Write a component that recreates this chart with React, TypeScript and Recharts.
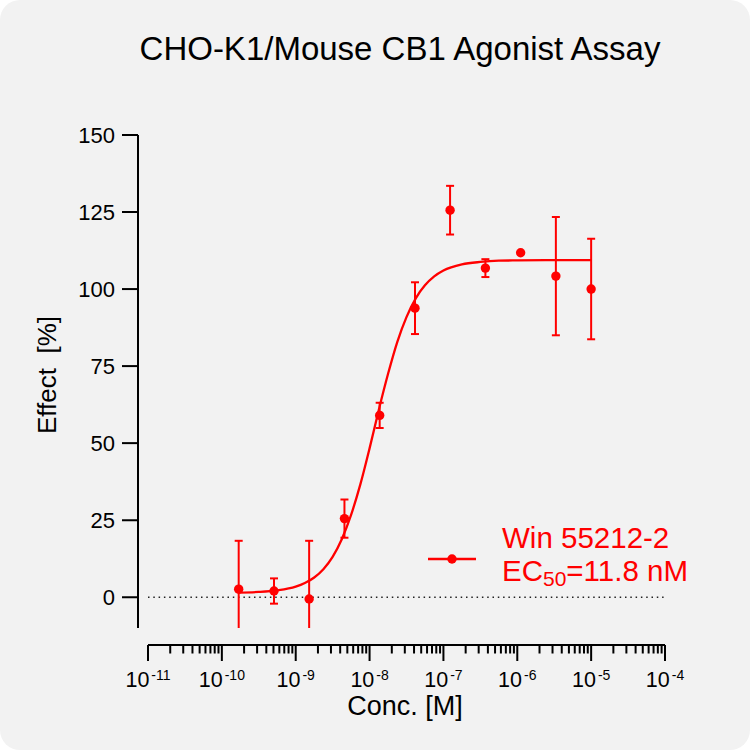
import {
  ComposedChart,
  Line,
  Scatter,
  ErrorBar,
  XAxis,
  YAxis,
  ReferenceLine,
  Legend,
} from 'recharts';

const RED = '#ff0000';
const FONT = '"Liberation Sans", Arial, sans-serif';

// measured points (3-fold dilution series)
const pointConc = [1.69e-10, 5.08e-10, 1.52e-9, 4.57e-9, 1.37e-8, 4.12e-8, 1.23e-7, 3.7e-7, 1.11e-6, 3.33e-6, 1.0e-5];
const pointEffect = [2.6, 2.0, -0.6, 25.5, 59.0, 93.8, 125.6, 106.8, 111.8, 104.2, 100.0];
const pointSd = [15.7, 4.1, 18.9, 6.2, 4.1, 8.4, 7.9, 2.9, 0, 19.2, 16.3];

// fitted curve
const curveConc = [
  1.69e-10, 3.16e-10, 5.62e-10, 1e-9, 1.33e-9, 1.78e-9, 2.37e-9, 3.16e-9, 4.22e-9, 5.62e-9,
  7.5e-9, 1e-8, 1.33e-8, 1.78e-8, 2.37e-8, 3.16e-8, 4.22e-8, 5.62e-8, 7.5e-8, 1e-7,
  1.78e-7, 3.16e-7, 5.62e-7, 1e-6, 3.16e-6, 1e-5,
];
const curveEffect = [
  1.5, 1.7, 2.2, 3.4, 4.6, 6.4, 9.1, 13.1, 18.9, 26.7,
  36.6, 48.3, 60.7, 72.5, 82.8, 90.9, 97.0, 101.2, 104.1, 106.0,
  108.0, 108.8, 109.2, 109.3, 109.4, 109.4,
];

const yTicks = [0, 25, 50, 75, 100, 125, 150];
const decades = [-11, -10, -9, -8, -7, -6, -5];
const multipliers = [1, 2, 3, 4, 5, 6, 7, 8, 9];

const xTicks = [...decades.flatMap(d => multipliers.map(m => m * Math.pow(10, d))), 1e-4];

const points = pointConc.map((conc, i) => ({ conc, effect: pointEffect[i], sd: pointSd[i] }));
const curve = curveConc.map((conc, i) => ({ conc, effect: curveEffect[i] }));

// layout
const WIDTH = 750;
const HEIGHT = 750;
const MARGIN = { top: 135, right: 85, bottom: 62, left: 88 };
const Y_AXIS_W = 60;
const X_AXIS_H = 60;
const PLOT = {
  x: MARGIN.left + Y_AXIS_W,
  y: MARGIN.top,
  w: WIDTH - MARGIN.left - Y_AXIS_W - MARGIN.right,
  h: HEIGHT - MARGIN.top - MARGIN.bottom - X_AXIS_H,
};

// axes sit detached from the plot (x axis 17px lower, y axis 10px further left)
const X_SHIFT = 17;
const Y_SHIFT = 10;

function ConcTick({ x, y, payload }: any) {
  const lg = Math.log10(payload.value);
  const exp = Math.round(lg);
  const major = Math.abs(lg - exp) < 1e-6;
  const y0 = y + X_SHIFT;
  return (
    <g>
      <line x1={x} x2={x} y1={y0} y2={y0 + (major ? 16 : 8.5)} stroke="#000" strokeWidth={2} />
      {major && (
        <text x={x} y={y0 + 42} textAnchor="middle" fontSize={21.5} fill="#000" fontFamily={FONT}>
          10
          <tspan dx={2} dy={-7} fontSize={14}>{`${exp}`}</tspan>
        </text>
      )}
    </g>
  );
}

function EffectTick({ x, y, payload }: any) {
  const x0 = x - Y_SHIFT;
  return (
    <g>
      <line x1={x0} x2={x0 - 16} y1={y} y2={y} stroke="#000" strokeWidth={2} />
      <text x={x0 - 23} y={y} dy="0.355em" textAnchor="end" fontSize={22} fill="#000" fontFamily={FONT}>
        {payload.value}
      </text>
    </g>
  );
}

function LegendBox() {
  return (
    <div style={{ position: 'relative', width: 300, height: 72, fontFamily: FONT, color: RED }}>
      <svg style={{ position: 'absolute', left: 0, top: 31 }} width={48} height={12}>
        <line x1={0} x2={48} y1={6} y2={6} stroke={RED} strokeWidth={2.3} />
        <circle cx={24} cy={6} r={4.7} fill={RED} />
      </svg>
      <div style={{ position: 'absolute', left: 74, top: -1, fontSize: 29.5, lineHeight: '33px', whiteSpace: 'nowrap' }}>
        Win 55212-2
        <br />
        EC<span style={{ fontSize: 21, position: 'relative', top: 5 }}>50</span>=11.8 nM
      </div>
    </div>
  );
}

export default function App() {
  return (
    <div style={{ width: WIDTH, height: HEIGHT, background: '#f2f2f2', borderRadius: 20, overflow: 'hidden' }}>
      <style>{`
        body { margin: 0; }
        .recharts-xAxis .recharts-cartesian-axis-line { transform: translate(0px, ${X_SHIFT}px); }
        .recharts-yAxis .recharts-cartesian-axis-line { transform: translate(-${Y_SHIFT}px, 0px); }
        .recharts-errorBars { clip-path: url(#plot-area-clip); }
      `}</style>
      <ComposedChart width={WIDTH} height={HEIGHT} margin={MARGIN} style={{ fontFamily: FONT }}>
        <defs>
          <clipPath id="plot-area-clip">
            <rect x={PLOT.x - 10} y={PLOT.y} width={PLOT.w + 20} height={PLOT.h} />
          </clipPath>
        </defs>
        <XAxis
          dataKey="conc"
          type="number"
          scale="log"
          domain={[1e-11, 1e-4]}
          allowDataOverflow
          ticks={xTicks}
          interval={0}
          height={X_AXIS_H}
          tickSize={0}
          tickMargin={0}
          tickLine={false}
          tick={<ConcTick />}
          axisLine={{ stroke: '#000', strokeWidth: 2 }}
        />
        <YAxis
          type="number"
          domain={[-10, 150]}
          allowDataOverflow
          ticks={yTicks}
          interval={0}
          width={Y_AXIS_W}
          tickSize={0}
          tickMargin={0}
          tickLine={false}
          tick={<EffectTick />}
          axisLine={{ stroke: '#000', strokeWidth: 2 }}
        />
        <ReferenceLine y={0} stroke="#222" strokeWidth={1.5} strokeDasharray="1.5 3.8" />
        <Line
          data={curve}
          dataKey="effect"
          type="monotone"
          stroke={RED}
          strokeWidth={2.3}
          dot={false}
          activeDot={false}
          isAnimationActive={false}
        />
        <Scatter
          data={points}
          dataKey="effect"
          fill={RED}
          isAnimationActive={false}
          shape={(p: any) => <circle cx={p.cx} cy={p.cy} r={4.7} fill={RED} />}
        >
          <ErrorBar dataKey="sd" direction="y" width={4} stroke={RED} strokeWidth={2} />
        </Scatter>
        <Legend
          layout="vertical"
          align="center"
          verticalAlign="middle"
          content={() => <LegendBox />}
          wrapperStyle={{ left: 428, top: 522, width: 300, height: 72 }}
        />
        <text x={400} y={60} textAnchor="middle" fontSize={33} fill="#000" fontFamily={FONT}>
          CHO-K1/Mouse CB1 Agonist Assay
        </text>
        <text
          x={56}
          y={375}
          transform="rotate(-90, 56, 375)"
          textAnchor="middle"
          fontSize={26}
          fill="#000"
          fontFamily={FONT}
          style={{ whiteSpace: 'pre' }}
        >
          {'Effect  [%]'}
        </text>
        <text x={405} y={715} textAnchor="middle" fontSize={27} fill="#000" fontFamily={FONT}>
          Conc. [M]
        </text>
      </ComposedChart>
    </div>
  );
}
